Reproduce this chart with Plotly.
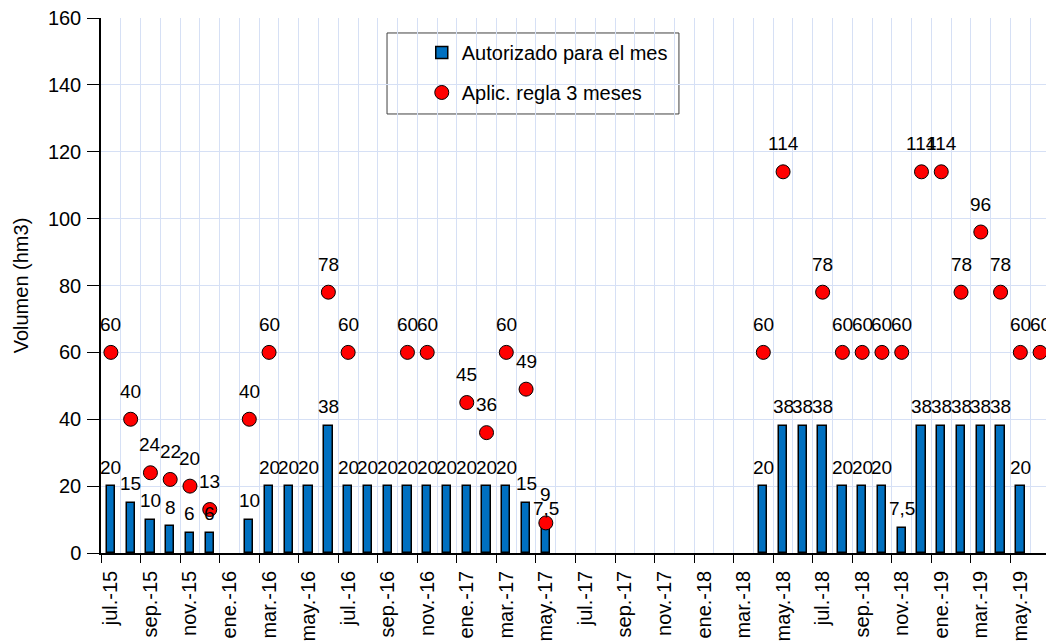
import plotly.graph_objects as go

# ---- data ----
month_abbr = ["ene.", "feb.", "mar.", "abr.", "may.", "jun.",
              "jul.", "ago.", "sep.", "oct.", "nov.", "dic."]
start_month = 6   # julio (0 = enero)
start_year = 15
n_months = 48
months = [f"{month_abbr[(start_month + i) % 12]}-{start_year + (start_month + i) // 12}"
          for i in range(n_months)]

autorizado = [20, 15, 10, 8, 6, 6, None, 10, 20, 20, 20, 38,
              20, 20, 20, 20, 20, 20, 20, 20, 20, 15, 7.5, None,
              None, None, None, None, None, None, None, None, None, 20, 38, 38,
              38, 20, 20, 20, 7.5, 38, 38, 38, 38, 38, 20, None]

regla3 = [60, 40, 24, 22, 20, 13, None, 40, 60, None, None, 78,
          60, None, None, 60, 60, None, 45, 36, 60, 49, 9, None,
          None, None, None, None, None, None, None, None, None, 60, 114, None,
          78, 60, 60, 60, 60, 114, 114, 78, 96, 78, 60, 60]

tick_idx = list(range(0, n_months, 2))
tick_text = [months[i] for i in tick_idx]

# ---- styles ----
FONT = "Liberation Sans, Arial, sans-serif"
GRID = "#D6E0F5"
BAR_COLOR = "#0070C0"
DOT_COLOR = "#FF0000"

def fmt(v):
    return f"{v:g}".replace(".", ",")

x = list(range(n_months))

fig = go.Figure()
fig.add_trace(go.Bar(
    x=x, y=autorizado, name="Autorizado para el mes",
    marker=dict(color=BAR_COLOR, line=dict(color="black", width=1.5)),
    width=0.42, legendgroup="a",
))
fig.add_trace(go.Scatter(
    x=x, y=regla3, name="Aplic. regla 3 meses", mode="markers",
    marker=dict(color=DOT_COLOR, size=14, line=dict(color="black", width=1)),
    legendgroup="b", cliponaxis=False,
))
# invisible trace to host the tick-mark axis
fig.add_trace(go.Scatter(x=[x[0]], y=[0], xaxis="x2", mode="markers",
                         marker=dict(opacity=0), showlegend=False, hoverinfo="skip"))

annotations = []
for i, v in enumerate(autorizado):
    if v is not None:
        annotations.append(dict(x=i, y=v, text=fmt(v), showarrow=False,
                                yshift=19, font=dict(family=FONT, size=19, color="black")))
for i, v in enumerate(regla3):
    if v is not None:
        annotations.append(dict(x=i, y=v, text=fmt(v), showarrow=False,
                                yshift=28, font=dict(family=FONT, size=19, color="black")))

# page body has an 8px margin, so the figure is sized 8px smaller
fig.update_layout(
    width=1046, height=636,
    margin=dict(l=93, r=4, t=10, b=91, autoexpand=False),
    paper_bgcolor="white", plot_bgcolor="white",
    font=dict(family=FONT, size=20, color="black"),
    bargap=0,
    showlegend=True,
    legend=dict(x=0.338, y=0.972, xanchor="left", yanchor="top",
                bgcolor="rgba(0,0,0,0)", borderwidth=0,
                font=dict(family=FONT, size=20, color="black"),
                tracegroupgap=11, traceorder="grouped"),
    xaxis=dict(range=[-0.5, n_months - 0.5], tickmode="array",
               tickvals=tick_idx, ticktext=tick_text, tickangle=-90,
               ticks="", showgrid=False, zeroline=False, automargin=False,
               showline=True, linecolor="black", linewidth=1.5,
               ticklabelstandoff=8, ticklabeloverflow="allow",
               tickfont=dict(family=FONT, size=20),
               minor=dict(tick0=-0.5, dtick=1, showgrid=True,
                          gridcolor=GRID, gridwidth=1, ticks="")),
    xaxis2=dict(range=[-0.5, n_months - 0.5], overlaying="x", anchor="y",
                side="bottom", tickmode="linear", tick0=-0.5, dtick=2,
                ticks="outside", ticklen=9, tickcolor="black", tickwidth=1,
                showticklabels=False, showgrid=False, zeroline=False,
                showline=False, automargin=False),
    yaxis=dict(range=[0, 160], dtick=20, showgrid=True, gridcolor=GRID,
               gridwidth=1, zeroline=False, showline=True, linecolor="black",
               linewidth=1.5, ticks="outside", ticklen=12, tickcolor="black",
               ticklabelstandoff=2, ticklabeloverflow="allow", automargin=False,
               tickfont=dict(family=FONT, size=20),
               title=dict(text="Volumen (hm3)", standoff=14,
                          font=dict(family=FONT, size=20))),
    annotations=annotations,
    shapes=[dict(type="rect", xref="paper", yref="paper",
                 x0=0.3014, x1=0.609, y0=0.8206, y1=0.972,
                 line=dict(color="#404040", width=1), fillcolor="white",
                 layer="below")],
)

fig.write_html("out.html")
